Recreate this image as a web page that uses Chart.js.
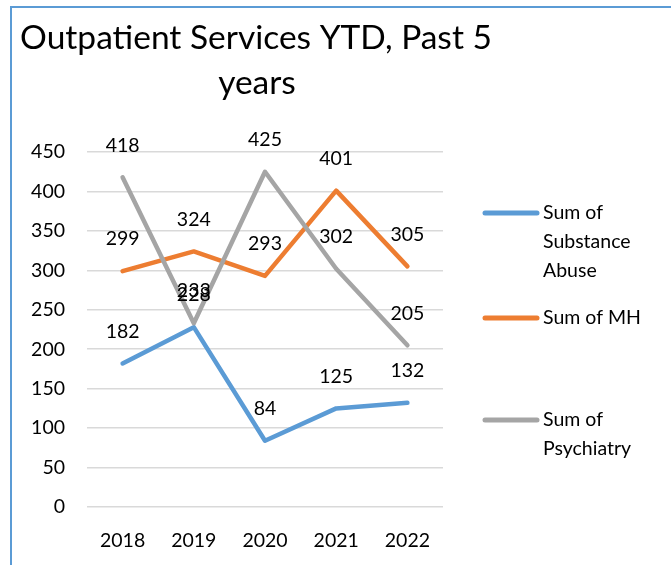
<!DOCTYPE html>
<html>
<head>
<meta charset="utf-8">
<script src="https://cdn.jsdelivr.net/npm/chart.js@4/dist/chart.umd.min.js"></script>
<style>
  html, body { margin: 0; padding: 0; background: #fff; overflow: hidden; }
  #frame { position: absolute; left: 10px; top: 6px; width: 700px; height: 600px;
           border-left: 2px solid #5b9bd5; border-top: 2px solid #5b9bd5; }
  #wrap { position: absolute; left: 0; top: 0; width: 671px; height: 565px; }
</style>
</head>
<body>
<div id="frame"></div>
<div id="wrap"><canvas id="c" width="671" height="565"></canvas></div>
<script>
const categories = ['2018', '2019', '2020', '2021', '2022'];
const substanceAbuse = [182, 228, 84, 125, 132];
const mentalHealth = [299, 324, 293, 401, 305];
const psychiatry = [418, 233, 425, 302, 205];
const seriesNames = ['Sum of Substance Abuse', 'Sum of MH', 'Sum of Psychiatry'];
const titleLines = ['Outpatient Services YTD, Past 5', 'years'];

const FONT = 'Lato, "Open Sans", sans-serif';

const titlePlugin = {
  id: 'excelTitle',
  afterDraw(chart) {
    const ctx = chart.ctx;
    ctx.save();
    ctx.fillStyle = '#000';
    ctx.font = '33.5px ' + FONT;
    ctx.textAlign = 'center';
    ctx.textBaseline = 'middle';
    ctx.fillText(titleLines[0], 256, 38);
    ctx.fillText(titleLines[1], 257, 83);
    ctx.restore();
  }
};

const labelPlugin = {
  id: 'valueLabels',
  afterDatasetsDraw(chart) {
    const ctx = chart.ctx;
    ctx.save();
    ctx.fillStyle = '#000';
    ctx.font = '19.5px ' + FONT;
    ctx.textAlign = 'center';
    ctx.textBaseline = 'middle';
    chart.data.datasets.forEach((ds, i) => {
      const meta = chart.getDatasetMeta(i);
      meta.data.forEach((pt, j) => {
        ctx.fillText(String(ds.data[j]), pt.x, pt.y - 32);
      });
    });
    ctx.restore();
  }
};

function wrapWords(ctx, text, maxW) {
  const words = text.split(' ');
  const lines = [];
  let cur = '';
  words.forEach(w => {
    const t = cur ? cur + ' ' + w : w;
    if (ctx.measureText(t).width > maxW && cur) { lines.push(cur); cur = w; }
    else cur = t;
  });
  if (cur) lines.push(cur);
  return lines;
}

const legendPlugin = {
  id: 'sideLegend',
  afterDraw(chart) {
    const ctx = chart.ctx;
    const firstLineY = [213, 318, 420];
    ctx.save();
    ctx.font = '19.5px ' + FONT;
    ctx.textAlign = 'left';
    ctx.textBaseline = 'middle';
    chart.data.datasets.forEach((ds, i) => {
      const y0 = firstLineY[i];
      ctx.strokeStyle = ds.borderColor;
      ctx.lineWidth = 5;
      ctx.lineCap = 'round';
      ctx.beginPath();
      ctx.moveTo(485, y0);
      ctx.lineTo(537, y0);
      ctx.stroke();
      ctx.fillStyle = '#000';
      const lines = wrapWords(ctx, ds.label, 122);
      lines.forEach((ln, k) => ctx.fillText(ln, 543, y0 + k * 29));
    });
    ctx.restore();
  }
};

new Chart(document.getElementById('c'), {
  type: 'line',
  data: {
    labels: categories,
    datasets: [
      { label: seriesNames[0], data: substanceAbuse, borderColor: '#5b9bd5', order: 3 },
      { label: seriesNames[1], data: mentalHealth, borderColor: '#ed7d31', order: 2 },
      { label: seriesNames[2], data: psychiatry, borderColor: '#a5a5a5', order: 1 }
    ]
  },
  options: {
    responsive: false,
    animation: false,
    devicePixelRatio: 1,
    layout: { padding: { left: 0, right: 228, top: 152, bottom: 0 } },
    elements: {
      line: { borderWidth: 4.5, tension: 0, borderCapStyle: 'round', borderJoinStyle: 'round' },
      point: { radius: 0, hoverRadius: 0 }
    },
    plugins: {
      legend: { display: false },
      title: { display: false },
      tooltip: { enabled: false }
    },
    scales: {
      x: {
        offset: true,
        grid: { display: false, drawTicks: false },
        border: { display: false },
        ticks: { color: '#000', font: { family: FONT, size: 19.5 }, padding: 22 },
        afterFit(s) { s.height = 58; }
      },
      y: {
        min: 0, max: 450,
        grid: { color: '#d9d9d9', lineWidth: 1.5, drawTicks: false },
        border: { display: false },
        ticks: { stepSize: 50, color: '#000', font: { family: FONT, size: 19.5 }, padding: 22 },
        afterFit(s) { s.width = 87; }
      }
    }
  },
  plugins: [titlePlugin, labelPlugin, legendPlugin]
});
</script>
</body>
</html>
